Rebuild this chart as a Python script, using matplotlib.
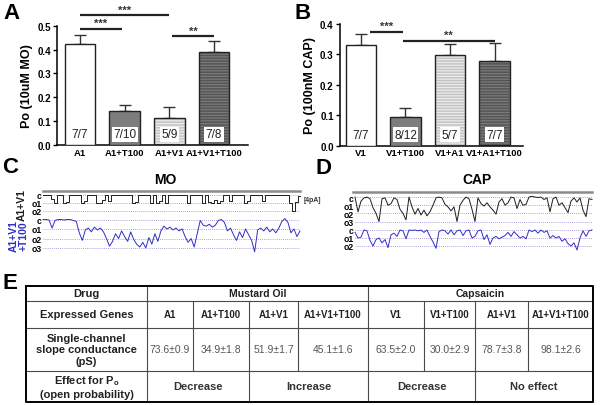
import matplotlib.pyplot as plt
import numpy as np
from matplotlib.lines import Line2D

plt.rcParams["font.family"] = ["Liberation Sans", "DejaVu Sans"]
plt.rcParams["mathtext.fontset"] = "custom"
plt.rcParams["mathtext.rm"] = "Liberation Sans"
plt.rcParams["mathtext.bf"] = "Liberation Sans:bold"
plt.rcParams["hatch.linewidth"] = 0.9

# %%
# Data
# ========================

mo_groups = ["A1", "A1+T100", "A1+V1", "A1+V1+T100"]
mo_po = [0.424, 0.144, 0.112, 0.388]
mo_sem = [0.038, 0.025, 0.048, 0.046]
mo_n = ["7/7", "7/10", "5/9", "7/8"]
# (from group, to group, height, stars)
mo_sig = [(0, 2, 0.544, "***"), (0, 0.93, 0.488, "***"), (2.07, 3, 0.457, "**")]

cap_groups = ["V1", "V1+T100", "V1+A1", "V1+A1+T100"]
cap_po = [0.331, 0.094, 0.297, 0.280]
cap_sem = [0.036, 0.029, 0.036, 0.058]
cap_n = ["7/7", "8/12", "5/7", "7/7"]
cap_sig = [(0.2, 0.94, 0.375, "***"), (0.94, 3, 0.345, "**")]

bar_face = ["white", "#7d7d7d", "#c4c4c4", "#555555"]
bar_stripe = [None, None, "#ececec", "#7a7a7a"]

# single-channel traces, in units of open levels (0 = closed), equal time steps
mo_trace_a1v1 = [
    0, 0.05, 0, 0.5, 1.0, 0.05, 0, 1.0, 0.9, 0, 0.05, 0, 0, 1.0, 0.8, 0, 0.05, 0,
    1.0, 1.0, 0.6, 0, 0.8, 0, 0.05, 0, 0, 0.05, 0, 0, 1.0, 0.9, 0, 0.05, 0, 0,
    1.0, 0, 1.0, 0.8, 0, 1.0, 0, 0.05, 0, 0, 0.05, 0, 1.0, 0, 0, 0.05, 0, 1.0,
    0, 0.9, 1.0, 0.6, 1.0, 0.7, 0, 0.05, 0.7, 0, 0, 0.05, 0, 1.0, 0.8, 0, 0.05,
    0, 0, 0.8, 0, 0.05, 0, 0, 0.05, 0, 0, 0, 1.0, 2.0, 0.9, 0.1,
]
mo_trace_a1v1t = [
    0, 0, 0.05, 0.9, 0.1, 0, 0, 0.05, 0, 0, 0.1, 0.2, 1.4, 2.2, 1.1, 0.9, 1.3,
    0.8, 1.1, 0.9, 1.3, 2.0, 2.8, 2.3, 1.5, 2.0, 1.2, 1.8, 2.3, 1.3, 2.1, 2.6,
    2.9, 2.4, 3.0, 1.9, 2.6, 1.5, 2.3, 1.2, 0.7, 1.0, 0.8, 1.1, 0.9, 1.2, 1.0,
    1.8, 2.4, 2.0, 2.9, 1.5, 0.1, 0.6, 0.7, 0.5, 0.8, 0.6, 0.1, 0.0, 0.3, 1.2,
    0.9, 1.6, 2.2, 1.3, 1.9, 1.0, 1.6, 2.2, 3.4, 1.1, 0.9, 1.2, 0.8, 1.3, 1.0,
    1.4, 0.9, 0.2, -0.1, 0.3, 1.4, 1.0, 1.8, 1.2,
]
cap_trace_v1 = [
    0, 1.8, 0.5, 0.1, 0, 0.2, 1.3, 2.0, 3.0, 0.2, 0.1, 1.0, 0.8, 0.1, 0.3, 1.5,
    2.0, 2.8, 0.0, 1.2, 2.1, 1.4, 2.2, 1.6, 2.3, 1.8, 1.0, 0.1, 0, 0.1, 0.9, 1.2,
    1.7, 1.2, 3.0, 1.0, 0.4, 0.0, 0.2, 1.5, 3.0, 0.1, 0.8, 1.1, 0.7, 1.2, 1.6,
    2.1, 0.6, 0.2, 1.0, 0.7, 0.0, 0.1, 1.4, 0.3, 1.0, 0.9, 0.0, -0.1, 0.0, 0.05,
    0.0, 0.3, 0.1, 1.8, 0.2, 0.0, 1.0, 0.7, 1.3, 1.9, 0.5, 0.1, 0.6, 0.1, 1.6,
    2.4, 0.2, 0.3,
]
cap_trace_v1t = [
    0.3, 1.0, 0.9, 0.0, 0.1, 1.3, 2.0, 1.2, 1.0, 1.6, 1.2, 2.2, 0.6, 0.4, 0.8,
    0.0, 0.1, 1.1, 0.0, 0.05, 0.0, 0.1, 0.0, 0.3, 0.0, 0.8, 1.5, 2.3, 0.2, 0.0,
    0.1, 0.5, 0.0, 0.6, 0.1, 0.0, 0.7, 0.1, 0.0, 1.0, 0.8, 0.1, 0.0, 1.2, 0.6,
    1.8, 1.0, 0.8, 1.1, 0.9, 0.7, 0.3, 0.8, 0.2, 0.6, 1.0, 0.8, 1.1, 0.0, 0.2,
    0.0, 0.4, 0.0, 0.3, 0.1, 1.0, 0.7, 1.0, 0.8, 1.4, 1.1, 1.7, 2.0, 1.6, 2.5,
    1.0, 0.1, 0.8, 0.1, 0.0,
]

# table E
drugs = ["Mustard Oil", "Capsaicin"]
genes = ["A1", "A1+T100", "A1+V1", "A1+V1+T100", "V1", "V1+T100", "A1+V1", "A1+V1+T100"]
conductance = ["73.6\u00b10.9", "34.9\u00b11.8", "51.9\u00b11.7", "45.1\u00b11.6",
               "63.5\u00b12.0", "30.0\u00b12.9", "78.7\u00b13.8", "98.1\u00b12.6"]
effects = [("Decrease", 0, 2), ("Increase", 2, 4), ("Decrease", 4, 6), ("No effect", 6, 8)]
row_titles = ["Drug", "Expressed Genes", "Single-channel\nslope conductance\n(pS)",
              "Effect for $\\mathbf{P}_\\mathbf{o}$\n(open probability)"]

# %%
# Layout helpers (pixel boxes on a 600 x 406 canvas)
# ==================================================

W, H = 600, 406
fig = plt.figure(figsize=(W / 100, H / 100), dpi=100)


def px_axes(x0, y0, x1, y1):
    return fig.add_axes([x0 / W, 1 - y1 / H, (x1 - x0) / W, (y1 - y0) / H])


def fig_text(x, y, s, **kw):
    fig.text(x / W, 1 - y / H, s, **kw)


def fig_hline(x0, x1, y, **kw):
    fig.add_artist(Line2D([x0 / W, x1 / W], [1 - y / H, 1 - y / H], **kw))


def bar_panel(box, xlim, ymax, groups, po, sem, ns, sig, width, ylabel):
    ax = px_axes(*box)
    x = np.arange(len(groups))
    for i in range(len(groups)):
        if bar_stripe[i]:
            ax.bar(x[i], po[i], width, color=bar_face[i], edgecolor=bar_stripe[i],
                   hatch="------", linewidth=0, zorder=2)
            ax.bar(x[i], po[i], width, fill=False, edgecolor="#222222",
                   linewidth=1.0, zorder=3)
        else:
            ax.bar(x[i], po[i], width, color=bar_face[i], edgecolor="#222222",
                   linewidth=1.0, zorder=3)
    ax.errorbar(x, po, yerr=[np.zeros(len(sem)), sem], fmt="none", ecolor="#333333",
                elinewidth=1.0, capsize=4.5, capthick=1.0, zorder=1)
    for i, n in enumerate(ns):
        ax.text(x[i], ymax * 0.09, n, ha="center", va="center", fontsize=8.5,
                color="#222222", zorder=5,
                bbox=dict(boxstyle="square,pad=0.12", fc="white", ec="none"))
    for x0, x1, h, stars in sig:
        ax.plot([x0, x1], [h, h], color="#222222", lw=1.6, clip_on=False,
                solid_capstyle="butt")
        ax.text((x0 + x1) / 2, h + ymax * 0.004, stars, ha="center", va="bottom",
                fontsize=8, fontweight="bold", color="#333333")
    ax.set_xlim(*xlim)
    ax.set_ylim(0, ymax)
    ax.set_yticks(np.arange(0, ymax + 0.01, 0.1))
    ax.set_yticklabels([f"{v:.1f}" for v in np.arange(0, ymax + 0.01, 0.1)],
                       fontsize=7, fontweight="bold")
    ax.set_xticks(x)
    ax.set_xticklabels(groups, fontsize=6.8, fontweight="bold")
    ax.tick_params(axis="x", length=0, pad=2)
    ax.tick_params(axis="y", length=3, width=1.0, pad=1.5)
    for side in ("top", "right"):
        ax.spines[side].set_visible(False)
    for side in ("left", "bottom"):
        ax.spines[side].set_linewidth(1.1)
    ax.set_ylabel(ylabel, fontsize=9, fontweight="bold", labelpad=3)
    return ax


def trace_panel(box, values, labels, color, steps=False):
    ax = px_axes(*box)
    n_lv = len(labels)
    for lv in range(n_lv):
        ax.axhline(lv, color="#9b7fd0", ls=(0, (1, 1.5)), lw=0.6, zorder=1)
    ax.plot(np.arange(len(values)), values, color=color, lw=0.7, zorder=2,
            clip_on=False, drawstyle="steps-mid" if steps else "default")
    ax.set_xlim(0, len(values) - 1)
    ax.set_ylim(n_lv - 0.5, -0.5)
    ax.set_yticks(range(n_lv))
    ax.set_yticklabels(labels, fontsize=6.2, fontweight="bold")
    ax.tick_params(axis="y", length=0, pad=1)
    ax.set_xticks([])
    for s in ax.spines.values():
        s.set_visible(False)
    ax.patch.set_alpha(0)
    return ax


# %%
# A / B — open probability
# ========================

bar_panel((57, 26.7, 248, 146), (-0.515, 3.76), 0.5, mo_groups, mo_po, mo_sem,
          mo_n, mo_sig, 0.69, "Po (10uM MO)")
bar_panel((340, 25, 523, 146.7), (-0.47, 3.64), 0.4, cap_groups, cap_po, cap_sem,
          cap_n, cap_sig, 0.68, "Po (100nM CAP)")

# %%
# C / D — single-channel traces
# =============================

trace_panel((43, 192, 300, 216), mo_trace_a1v1, ["c", "o1", "o2"], "#1e1e1e", steps=True)
trace_panel((43, 215.75, 300, 253.75), mo_trace_a1v1t, ["c", "o1", "o2", "o3"], "#2f2fc8")
trace_panel((355, 194, 592, 226.6), cap_trace_v1, ["c", "o1", "o2", "o3"], "#1e1e1e")
trace_panel((355, 227, 592, 251), cap_trace_v1t, ["c", "o1", "o2"], "#2f2fc8")

fig_hline(43, 300, 191.5, color="#8a8a8a", lw=1.8)
fig_hline(353, 592, 193, color="#8a8a8a", lw=1.8)
fig_text(165, 187, "MO", ha="center", va="bottom", fontsize=10, fontweight="bold")
fig_text(477, 187, "CAP", ha="center", va="bottom", fontsize=10, fontweight="bold")
fig_text(22, 205, "A1+V1", rotation=90, ha="center", va="center", fontsize=7.5,
         fontweight="bold", color="#1e1e1e")
fig_text(19, 236, "A1+V1\n+T100", rotation=90, ha="center", va="center", fontsize=7.5,
         fontweight="bold", color="#2f2fc8", linespacing=0.95)
fig_text(312, 201, "[4pA]", ha="center", va="center", fontsize=5, fontweight="bold",
         color="#333333")

# %%
# E — summary table
# =================

tab = px_axes(26, 287, 593, 403)
col_x = [26, 147, 193, 249, 298, 368, 424, 475, 528, 593]
row_y = [287, 302, 329, 371.5, 403]
tab.set_xlim(col_x[0], col_x[-1])
tab.set_ylim(row_y[-1], row_y[0])
tab.axis("off")
inner = dict(color="#4a4a4a", lw=0.8)
for y in row_y[1:-1]:
    tab.plot([col_x[0], col_x[-1]], [y, y], **inner)
tab.plot([col_x[1]] * 2, [row_y[0], row_y[-1]], **inner)
tab.plot([col_x[5]] * 2, [row_y[0], row_y[-1]], **inner)
for c in (2, 3, 4, 6, 7, 8):
    tab.plot([col_x[c]] * 2, [row_y[1], row_y[3]], **inner)
for c in (3, 7):
    tab.plot([col_x[c]] * 2, [row_y[3], row_y[4]], **inner)
tab.plot([col_x[0], col_x[-1], col_x[-1], col_x[0], col_x[0]],
         [row_y[0], row_y[0], row_y[-1], row_y[-1], row_y[0]], color="black", lw=1.4,
         clip_on=False)


def mid(a, b):
    return (a + b) / 2


for r, title in enumerate(row_titles):
    tab.text(mid(col_x[0], col_x[1]), mid(row_y[r], row_y[r + 1]), title,
             ha="center", va="center", fontsize=8, fontweight="bold",
             color="#222222", linespacing=1.2)
for k, drug in enumerate(drugs):
    tab.text(mid(col_x[1 + 4 * k], col_x[5 + 4 * k]), mid(row_y[0], row_y[1]), drug,
             ha="center", va="center", fontsize=7.5, fontweight="bold", color="#222222")
for c, (g, val) in enumerate(zip(genes, conductance)):
    tab.text(mid(col_x[c + 1], col_x[c + 2]), mid(row_y[1], row_y[2]), g,
             ha="center", va="center", fontsize=7, fontweight="bold", color="#222222")
    tab.text(mid(col_x[c + 1], col_x[c + 2]), mid(row_y[2], row_y[3]), val,
             ha="center", va="center", fontsize=7.5, color="#555555")
for label, c0, c1 in effects:
    tab.text(mid(col_x[c0 + 1], col_x[c1 + 1]), mid(row_y[3], row_y[4]), label,
             ha="center", va="center", fontsize=8, fontweight="bold", color="#333333")

# %%
# Panel letters

for letter, x, y in [("A", 3, 3), ("B", 294, 3), ("C", 2, 157), ("D", 316, 158),
                     ("E", 3, 273)]:
    fig_text(x, y, letter, ha="left", va="top", fontsize=16, fontweight="bold")

fig.savefig("out.png", dpi=100)
